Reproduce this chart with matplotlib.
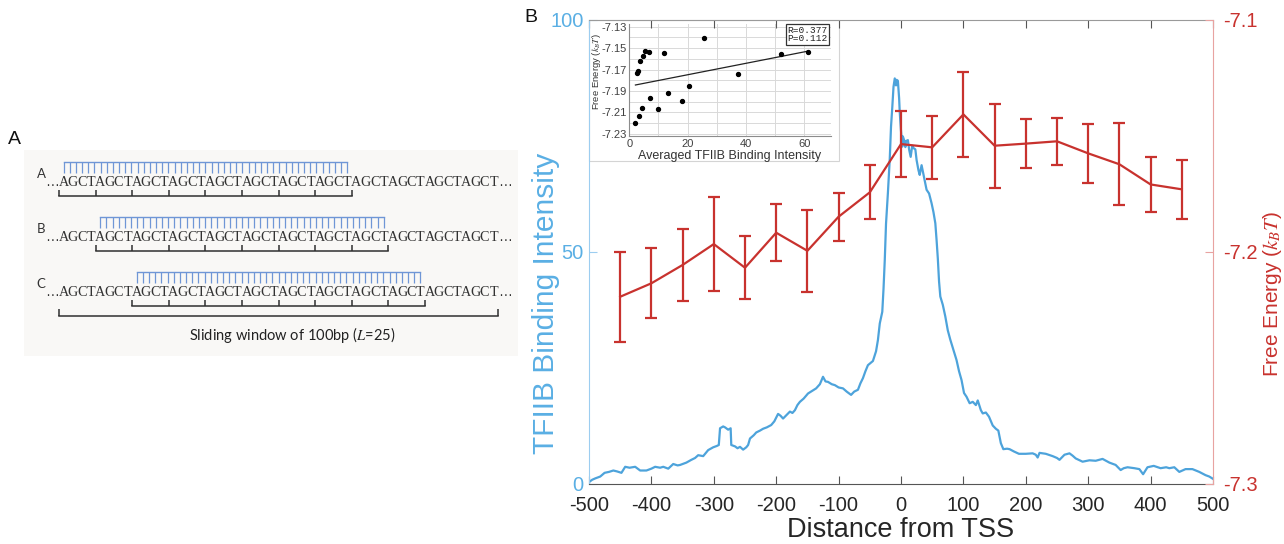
"""TFIIB binding profile vs. free energy around the TSS, with the sliding-window sketch."""

import matplotlib

matplotlib.use("Agg")
import matplotlib.pyplot as plt
import numpy as np
from matplotlib.patches import Rectangle

W, H = 1284, 544

# TFIIB binding profile (distance from TSS, intensity)
TSS_DIST = [
    -500, -495, -490, -482, -475, -468, -461, -455, -448, -442,
    -435, -426, -418, -408, -400, -394, -386, -381, -373, -365,
    -358, -354, -344, -336, -330, -325, -317, -309, -301, -295,
    -292, -290, -285, -282, -277, -273, -272, -266, -262, -258,
    -253, -248, -245, -242, -236, -232, -226, -221, -215, -208,
    -203, -197, -193, -189, -183, -178, -174, -170, -166, -162,
    -156, -149, -143, -136, -130, -125, -121, -117, -111, -106,
    -100, -93, -87, -80, -75, -69, -65, -61, -57, -53,
    -45, -40, -37, -34, -30, -28, -26, -24, -21, -18,
    -16, -14, -12, -10, -8, -7, -5, -3, -2, 0,
    2, 3, 5, 7, 8, 11, 13, 15.5, 18, 20,
    23, 25, 28, 30, 33, 36, 39, 41, 45, 49,
    52, 55, 57, 59, 61, 63, 67, 71, 75, 79,
    84, 89, 93, 97, 101, 105, 110, 115, 120, 123,
    128, 131, 136, 141, 147, 152, 156, 160, 164, 170,
    174, 181, 189, 200, 211, 216, 219, 222, 232, 243,
    250, 254, 262, 270, 275, 280, 291, 302, 312, 323,
    334, 344, 352, 357, 363, 374, 382, 388, 395, 405,
    416, 425, 430, 438, 446, 456, 467, 478, 488, 494,
    500,
]
TFIIB = [
    0.3, 0.8, 1.1, 1.5, 2.3, 2.5, 2.8, 2.6, 2.3, 3.6,
    3.4, 3.6, 2.8, 2.8, 3.2, 3.6, 3.4, 3.6, 3.2, 4.2,
    3.9, 4.0, 4.5, 5.1, 5.5, 6.1, 5.9, 7.2, 7.8, 8.1,
    8.3, 11.9, 12.3, 12.1, 11.6, 11.9, 8.3, 8.0, 7.6, 7.9,
    7.3, 7.8, 8.3, 9.7, 10.4, 11.0, 11.4, 11.8, 12.1, 12.6,
    13.4, 15.0, 14.6, 14.0, 14.8, 15.5, 15.2, 15.8, 16.9, 17.6,
    18.3, 19.4, 19.9, 20.5, 21.4, 23.0, 22.0, 21.9, 21.4, 21.2,
    20.7, 20.5, 19.8, 19.1, 19.8, 20.2, 21.6, 22.7, 24.2, 25.5,
    26.4, 28.5, 30.9, 34.5, 37.0, 42.0, 48.2, 56.0, 62.6, 70.0,
    76.9, 81.0, 85.5, 87.3, 85.8, 87.0, 86.8, 83.0, 80.0, 76.0,
    72.6, 74.8, 74.0, 72.5, 73.8, 74.0, 72.0, 70.4, 72.8, 72.3,
    72.0, 69.7, 67.5, 66.5, 68.6, 66.6, 64.5, 63.3, 62.5, 60.4,
    58.5, 56.1, 52.5, 48.5, 43.5, 40.3, 38.5, 36.0, 33.0, 31.0,
    28.8, 26.6, 24.2, 22.3, 19.5, 18.7, 17.3, 17.6, 16.9, 17.9,
    15.8, 15.1, 15.3, 14.4, 12.5, 11.8, 11.4, 8.7, 7.4, 7.5,
    7.4, 6.9, 6.4, 6.4, 6.5, 6.2, 5.6, 6.6, 6.4, 5.9,
    5.5, 5.1, 6.2, 6.5, 6.0, 5.4, 4.7, 5.0, 4.9, 5.3,
    4.5, 4.0, 2.9, 3.3, 3.5, 3.3, 3.1, 2.0, 3.5, 3.8,
    3.3, 3.5, 3.3, 3.5, 2.5, 3.1, 3.1, 2.5, 1.8, 1.5,
    1.0,
]

# free energy of each 100bp window, centred every 50bp
WIN_CENTERS = [-450, -400, -350, -300, -250, -200, -150, -100, -50, 0,
               50, 100, 150, 200, 250, 300, 350, 400, 450]
ENERGY = [-7.2195, -7.2137, -7.2058, -7.1968, -7.2070, -7.1919, -7.1997,
          -7.1850, -7.1745, -7.1537, -7.1551, -7.1409, -7.1544, -7.1535,
          -7.1525, -7.1577, -7.1624, -7.1711, -7.1732]
ENERGY_ERR = [0.0194, 0.0150, 0.0156, 0.0201, 0.0135, 0.0122, 0.0176,
              0.0104, 0.0116, 0.0141, 0.0136, 0.0182, 0.0181, 0.0105,
              0.0102, 0.0127, 0.0177, 0.0117, 0.0126]
# TFIIB intensity averaged over the same windows
AVG_TFIIB = [2.1, 3.2, 4.3, 7.1, 10.0, 13.4, 18.1, 20.6, 37.2, 61.2,
             52.1, 25.7, 11.9, 6.8, 5.5, 4.8, 3.8, 2.9, 2.7]
STATS_TEXT = "R=0.377\nP=0.112"

# sliding-window sketch
SEQUENCE = "AGCT" * 12
ROW_NAMES = ["A", "B", "C"]
WINDOW_STARTS = [0, 4, 8]
WINDOW_BP = 32
STEP_BP = 4
N_TEETH = 47

BLUE = "#4da3db"
BLUE_TXT = "#5aafe4"
RED = "#c8322e"
DARK = "#262626"

plt.rcParams["font.family"] = ["Liberation Sans", "DejaVu Sans"]
plt.rcParams["mathtext.fontset"] = "stix"
plt.rcParams["axes.unicode_minus"] = False


def fig_rect(x0, y0, x1, y1):
    """Pixel box (top-left origin) -> figure fraction rect."""
    return [x0 / W, 1 - y1 / H, (x1 - x0) / W, (y1 - y0) / H]


fig = plt.figure(figsize=(W / 100, H / 100), dpi=100)

# ---- panel A: sliding-window sketch -------------------------------------
CHAR_W, CHAR_X0 = 9.15, 59.0          # px per base, left edge of base 0
ROW_Y = [181, 236, 291]
pa_x0, pa_x1 = 24, 518
axa = fig.add_axes(fig_rect(pa_x0, 150, pa_x1, 356), zorder=0)
axa.set_facecolor("#f9f8f6")
axa.set_xlim((pa_x0 - CHAR_X0) / CHAR_W, (pa_x1 - CHAR_X0) / CHAR_W)
axa.set_ylim(356, 150)
axa.set_xticks([])
axa.set_yticks([])
for s in axa.spines.values():
    s.set_visible(False)

comb_c = "#6f96d6"
brk_c = "#303030"
seq_c = "#333333"
for name, start, y in zip(ROW_NAMES, WINDOW_STARTS, ROW_Y):
    axa.text(-1.95, y - 7, name, fontsize=9.5, ha="center", va="center",
             color="#333333", family=["Lato", "DejaVu Sans"])
    axa.text(0, y + 5, "…", fontsize=10, ha="right", va="baseline", color=seq_c)
    axa.text(len(SEQUENCE), y + 5, "…", fontsize=10, ha="left", va="baseline",
             color=seq_c)
    for k, ch in enumerate(SEQUENCE):
        axa.text(k + 0.5, y + 5, ch, fontsize=10.2, ha="center", va="baseline",
                 color=seq_c, family=["Liberation Serif", "DejaVu Serif"])
    # comb over the window
    a, b = start + 0.5, start + WINDOW_BP - 0.5
    axa.plot([a, b], [y - 19, y - 19], color=comb_c, lw=1.0)
    teeth = np.linspace(a, b, N_TEETH)
    axa.vlines(teeth, y - 19, y - 8, color=comb_c, lw=0.9)
    # bracket of 4bp steps under the window
    axa.plot([start, start + WINDOW_BP], [y + 15, y + 15], color=brk_c, lw=1.1)
    axa.vlines(np.arange(start, start + WINDOW_BP + 1, STEP_BP), y + 9, y + 15,
               color=brk_c, lw=1.1)

axa.plot([0, len(SEQUENCE)], [316, 316], color=brk_c, lw=1.1)
axa.vlines([0, len(SEQUENCE)], 309, 316, color=brk_c, lw=1.1)
axa.text(25.5, 335, r"Sliding window of 100bp ($L$=25)", fontsize=10.5, ha="center",
         va="center", color="#222222", family=["Lato", "DejaVu Sans"])

fig.text(14 / W, 1 - 139 / H, "A", fontsize=14, ha="center", va="center", color="#111111")
fig.text(531 / W, 1 - 18 / H, "B", fontsize=14, ha="center", va="center", color="#111111")

# ---- panel B: main profile plot -----------------------------------------
ax = fig.add_axes(fig_rect(589, 19.5, 1213, 483.5), zorder=2)
ax.patch.set_visible(False)
ax.plot(TSS_DIST, TFIIB, color=BLUE, lw=1.6)
ax.set_xlim(-500, 500)
ax.set_ylim(0, 100)
ax.set_xticks(range(-500, 501, 100))
ax.set_yticks([0, 50, 100])
ax.tick_params(axis="x", direction="in", length=6, top=True, labelsize=14.5,
               pad=9, colors="#555555", labelcolor=DARK)
ax.tick_params(axis="y", direction="in", length=6, labelsize=14.5, pad=4,
               colors="#9ccdf0", labelcolor=BLUE_TXT)
ax.spines["left"].set_color("#9ccdf0")
ax.spines["top"].set_color("#9a9a9a")
ax.spines["bottom"].set_color("#555555")
ax.spines["right"].set_visible(False)
ax.set_xlabel("Distance from TSS", fontsize=19.5, color=DARK)
ax.xaxis.set_label_coords(0.5, -0.1)
ax.xaxis.label.set_va("center")
ax.set_ylabel("TFIIB Binding Intensity", fontsize=21.5, color=BLUE_TXT)
ax.yaxis.set_label_coords(-0.069, 0.389)
ax.yaxis.label.set_va("center")

ax2 = ax.twinx()
ax2.set_zorder(3)
ax2.errorbar(WIN_CENTERS, ENERGY, yerr=ENERGY_ERR, color=RED, lw=1.6,
             elinewidth=1.6, capsize=4.3, capthick=1.6)
ax2.set_ylim(-7.3, -7.1)
ax2.set_yticks([-7.3, -7.2, -7.1])
ax2.set_yticklabels(["-7.3", "-7.2", "-7.1"])
ax2.tick_params(axis="y", direction="in", length=6, labelsize=14.5, pad=7,
                colors="#e8a3a1", labelcolor=RED)
for side in ("left", "top", "bottom"):
    ax2.spines[side].set_visible(False)
ax2.spines["right"].set_color("#e8a3a1")
ax2.set_ylabel(r"Free Energy ($k_BT$)", fontsize=15, color=RED)
ax2.yaxis.set_label_coords(1.0946, 0.408)
ax2.yaxis.label.set_va("center")

# ---- inset: window energy vs averaged TFIIB -----------------------------
box = Rectangle((589 / W, 1 - 161 / H), 250 / W, 141 / H, transform=fig.transFigure,
                facecolor="white", edgecolor="#d4d4d4", lw=0.8, zorder=0.5)
fig.add_artist(box)

axin = fig.add_axes(fig_rect(629.3, 24, 830.7, 136), zorder=1)
axin.scatter(AVG_TFIIB, ENERGY, s=8, color="black", zorder=3)
slope, icpt = np.polyfit(AVG_TFIIB, ENERGY, 1)
fx = np.array([min(AVG_TFIIB), max(AVG_TFIIB)])
axin.plot(fx, slope * fx + icpt, color="#222222", lw=0.9, zorder=2)
axin.set_xlim(0, 69)
axin.set_ylim(-7.232, -7.1275)
axin.set_xticks([0, 20, 40, 60])
axin.set_xticks(range(10, 70, 20), minor=True)
yt = [-7.23, -7.21, -7.19, -7.17, -7.15, -7.13]
axin.set_yticks(yt)
axin.set_yticklabels([f"{v:.2f}" for v in yt])
axin.set_yticks([-7.22, -7.20, -7.18, -7.16, -7.14], minor=True)
axin.grid(True, which="both", color="#d9d9d9", lw=0.7)
axin.set_axisbelow(True)
axin.tick_params(which="both", length=0, labelsize=8, pad=2, labelcolor="#404040")
for side in ("top", "right"):
    axin.spines[side].set_visible(False)
for side in ("left", "bottom"):
    axin.spines[side].set_color("#8c8c8c")
    axin.spines[side].set_linewidth(0.8)
axin.set_xlabel("Averaged TFIIB Binding Intensity", fontsize=9, color="#333333", labelpad=1)
axin.set_ylabel(r"Free Energy ($k_BT$)", fontsize=6.8, color="#333333")
axin.yaxis.set_label_coords(-0.165, 0.57)
axin.yaxis.label.set_va("center")
axin.text(0.985, 0.985, STATS_TEXT, transform=axin.transAxes, ha="right", va="top",
          fontsize=6.8, family=["Liberation Mono", "DejaVu Sans Mono"], linespacing=0.95,
          color="#222222",
          bbox=dict(boxstyle="square,pad=0.15", facecolor="white", edgecolor="#333333", lw=0.9))

fig.savefig("out.png", dpi=100, facecolor="white")
